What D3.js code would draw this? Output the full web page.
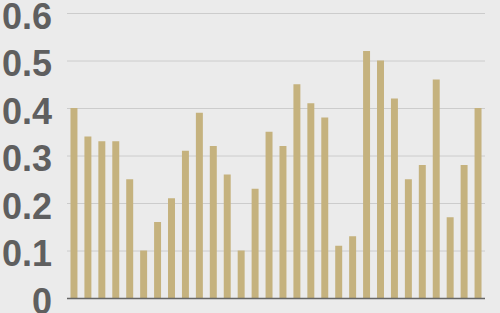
<!DOCTYPE html>
<html>
  <head>
    <meta charset="utf-8">
    <script src="https://d3js.org/d3.v7.min.js"></script>
    <style>
      body { margin: 0px; background: #ebebeb; }
      .domain { display: none; }
      .tick line { stroke: #cccccc; }
      .tick text {
        fill: #5f5f5f;
        font-size: 36px;
        font-weight: bold;
        font-family: "Liberation Sans", Arial, sans-serif;
      }
    </style>
  </head>
  <body>
    <svg width="500" height="313"></svg>
    <script>
      const categories = d3.range(1, 31).map(String);
      const values = [0.40, 0.34, 0.33, 0.33, 0.25, 0.10, 0.16, 0.21, 0.31, 0.39,
                      0.32, 0.26, 0.10, 0.23, 0.35, 0.32, 0.45, 0.41, 0.38, 0.11,
                      0.13, 0.52, 0.50, 0.42, 0.25, 0.28, 0.46, 0.17, 0.28, 0.40];
      const yTicks = [0, 0.1, 0.2, 0.3, 0.4, 0.5, 0.6];
      const yTickLabels = ['0', '0.1', '0.2', '0.3', '0.4', '0.5', '0.6'];

      const margin = { left: 67, right: 15, top: 13, bottom: 15 };
      const svg = d3.select('svg');
      const width = +svg.attr('width');
      const height = +svg.attr('height');
      const innerWidth = width - margin.left - margin.right;
      const innerHeight = height - margin.top - margin.bottom;

      svg.append('rect')
          .attr('width', width)
          .attr('height', height)
          .attr('fill', '#ebebeb');

      const g = svg.append('g')
          .attr('transform', `translate(${margin.left},${margin.top})`);

      const xScale = d3.scaleBand()
          .domain(categories)
          .range([0, innerWidth])
          .paddingInner(0.5)
          .paddingOuter(0.25);

      const yScale = d3.scaleLinear()
          .domain([0, 0.6])
          .range([innerHeight, 0]);

      const yAxis = d3.axisLeft(yScale)
          .tickValues(yTicks)
          .tickFormat((d, i) => yTickLabels[i])
          .tickSize(-innerWidth)
          .tickPadding(15);

      const yAxisG = g.append('g').call(yAxis);
      yAxisG.selectAll('.tick text').attr('dy', '0.42em');
      yAxisG.selectAll('.tick')
          .filter(d => d === 0)
          .select('line')
          .attr('stroke', '#666666');

      g.selectAll('rect.bar').data(values)
        .enter().append('rect')
          .attr('class', 'bar')
          .attr('x', (d, i) => xScale(categories[i]))
          .attr('y', d => yScale(d))
          .attr('width', xScale.bandwidth())
          .attr('height', d => innerHeight - yScale(d))
          .attr('fill', '#c5b27e');

      g.append('line')
          .attr('x1', 0)
          .attr('x2', innerWidth)
          .attr('y1', innerHeight + 0.5)
          .attr('y2', innerHeight + 0.5)
          .attr('stroke', '#666666')
          .attr('stroke-width', 1.5);
    </script>
  </body>
</html>
